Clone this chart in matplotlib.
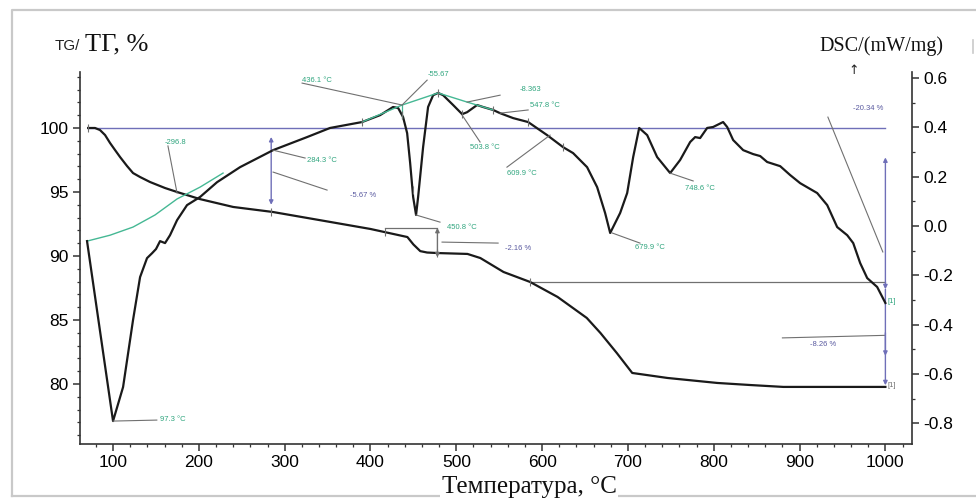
import matplotlib
matplotlib.use('Agg')
import matplotlib.pyplot as plt
import numpy as np
from matplotlib.ticker import MultipleLocator
from matplotlib.lines import Line2D

plt.rcParams['font.family'] = ['Liberation Sans', 'DejaVu Sans']
plt.rcParams['axes.unicode_minus'] = False

# TG curve (%)
tg_t = [71, 79, 84.8, 90.7, 96.5, 102.3, 108.2, 116.3, 123.3, 131.5, 143.1, 160.6, 174.6,
        201, 240, 286, 353, 400, 443, 450, 458, 466, 478,
        513, 528, 555, 586, 618, 652, 668, 687, 705, 746, 804, 842, 881, 959, 1000]
tg_v = [100.0, 100.0, 99.84, 99.45, 98.83, 98.28, 97.73, 97.03, 96.48, 96.17, 95.78, 95.31,
        95.0, 94.45, 93.83, 93.44, 92.66, 92.11, 91.48, 90.9, 90.38, 90.27, 90.23,
        90.16, 89.84, 88.75, 87.97, 86.80, 85.16, 83.98, 82.42, 80.86, 80.47, 80.08,
        79.92, 79.77, 79.77, 79.77]

# DSC curve (mW/mg)
dsc_t = [69.7, 85, 100, 111.7, 123.3, 131.5, 139.6, 145.5, 150.1, 154.8, 160.6, 166.4,
         174.6, 186.2, 201.4, 221.2, 248, 286.5, 326.1, 352.9, 390.2, 411.2, 426.3,
         432.2, 438, 442.7, 446.2, 449.7, 453.1, 455.5, 461.3, 467.1, 473, 478.8,
         484.6, 496.3, 506.8, 512.6, 524.2, 531.2, 542.9, 551, 566.2, 583.7, 605.8,
         624.5, 636.1, 652.4, 664.1, 673.4, 679.3, 690.9, 699.1, 706.1, 713.1, 722.4,
         734, 749.2, 760.8, 772.5, 778.3, 784.1, 792.3, 799.3, 810.9, 815.6, 822.6,
         834.3, 845.9, 854.1, 862.2, 877.4, 889, 900.7, 920.5, 932.2, 943.8, 955.5,
         962.5, 970.6, 978.8, 990.4, 1000]
dsc_v = [-0.061, -0.43, -0.791, -0.653, -0.381, -0.207, -0.130, -0.110, -0.093, -0.061,
         -0.069, -0.037, 0.024, 0.085, 0.118, 0.178, 0.239, 0.308, 0.361, 0.398, 0.422,
         0.450, 0.483, 0.479, 0.442, 0.377, 0.256, 0.118, 0.045, 0.118, 0.320, 0.483,
         0.531, 0.540, 0.531, 0.491, 0.454, 0.462, 0.491, 0.483, 0.471, 0.458, 0.438,
         0.422, 0.369, 0.320, 0.296, 0.239, 0.158, 0.053, -0.028, 0.053, 0.134, 0.280,
         0.398, 0.369, 0.280, 0.215, 0.268, 0.341, 0.361, 0.357, 0.398, 0.402, 0.422,
         0.402, 0.349, 0.308, 0.292, 0.284, 0.260, 0.243, 0.207, 0.174, 0.134, 0.085,
         -0.004, -0.037, -0.069, -0.150, -0.211, -0.247, -0.312]

# green baseline arc and tangent lines
arc_t = [69.7, 96.5, 123.3, 148.9, 174.6, 201.4, 228.2]
arc_v = [-0.061, -0.037, -0.004, 0.045, 0.110, 0.158, 0.215]
tan_t = [390.2, 436.8, 478.8, 512.6, 542.9]
tan_v = [0.422, 0.491, 0.540, 0.503, 0.471]

# DSC labels: text, x, y, line start, line end, colour
dsc_labels = [
    ('97.3 °C', 154.8, -0.785, (100, -0.791), (151, -0.787), 'g'),
    ('-296.8', 160.6, 0.341, (164, 0.325), (174.6, 0.134), 'g'),
    ('284.3 °C', 326, 0.268, (286.5, 0.308), (323.8, 0.276), 'g'),
    ('-5.67 %', 376, 0.126, (286.5, 0.219), (349.4, 0.146), 'p'),
    ('436.1 °C', 320, 0.592, (320.3, 0.580), (436.8, 0.491), 'g'),
    ('-55.67', 467, 0.613, (466, 0.592), (436.8, 0.491), 'g'),
    ('-8.363', 574, 0.556, (551, 0.531), (512.6, 0.503), 'g'),
    ('547.8 °C', 586, 0.491, (583.7, 0.471), (551, 0.458), 'g'),
    ('503.8 °C', 516, 0.320, (527.7, 0.341), (506.8, 0.450), 'g'),
    ('609.9 °C', 559, 0.215, (559, 0.239), (609.3, 0.369), 'g'),
    ('450.8 °C', 489, -0.004, (453, 0.045), (481, 0.016), 'g'),
    ('-2.16 %', 557, -0.089, (483.4, -0.065), (548.7, -0.069), 'p'),
    ('679.9 °C', 708, -0.085, (681.6, -0.028), (714, -0.069), 'g'),
    ('748.6 °C', 767, 0.154, (749, 0.215), (776, 0.183), 'g'),
    ('-20.34 %', 962, 0.475, (933, 0.442), (997, -0.105), 'p'),
]
dsc_marks = [390, 436.8, 449, 478.8, 506.8, 542.9, 583.7, 624.5]
tg_marks = [71, 284.3, 417, 478, 586]

green = '#45b894'
purple = '#6f6fb8'
gray = '#707070'
lab_col = {'g': '#2fa57e', 'p': '#5a5aa0'}

fig = plt.figure(figsize=(9.76, 5.04), dpi=100)
ax1 = fig.add_axes([80/976, 1-444/504, 832/976, 372/504])
ax2 = ax1.twinx()

ax1.set_xlim(61.5, 1031)
ax1.set_ylim(75.31, 104.375)
ax2.set_ylim(-0.884, 0.625)

# frame around the whole picture
fig.add_artist(Line2D([12/976, 12/976, 1], [1-496/504, 1-10/504, 1-10/504],
                      transform=fig.transFigure, color='#c9c9c9', lw=1.6))
fig.add_artist(Line2D([12/976, 1], [1-496/504, 1-496/504],
                      transform=fig.transFigure, color='#c9c9c9', lw=1.6))
fig.add_artist(Line2D([973/976, 973/976], [1-40/504, 1-53/504],
                      transform=fig.transFigure, color='#c9c9c9', lw=1.2))

# 100 % reference line
ax1.plot([71, 1000], [100, 100], color=purple, lw=1.0, zorder=2)

ax1.plot(tg_t, tg_v, color='#1a1a1a', lw=1.6, zorder=3)
ax2.plot(arc_t, arc_v, color=green, lw=1.0, zorder=2)
ax2.plot(dsc_t, dsc_v, color='#1a1a1a', lw=1.6, zorder=3)
ax2.plot(tan_t, tan_v, color=green, lw=1.0, zorder=4)
ax2.plot([436.8, 436.8], [0.491, 0.44], color=green, lw=0.9, zorder=4)

ax2.plot(dsc_marks, np.interp(dsc_marks, dsc_t, dsc_v), ls='none', marker='|',
         ms=6, mew=0.8, color=gray, zorder=5)
ax1.plot(tg_marks, np.interp(tg_marks, tg_t, tg_v), ls='none', marker='|',
         ms=6, mew=0.8, color=gray, zorder=5)

for text, x, y, p0, p1, c in dsc_labels:
    ax2.plot([p0[0], p1[0]], [p0[1], p1[1]], color=gray, lw=0.8, zorder=4)
    ax2.text(x, y, text, color=lab_col[c], fontsize=5.5, ha='left', va='center', zorder=6)

# TG step markers
arr = dict(arrowstyle='<|-|>', color=purple, lw=1.0, mutation_scale=6, shrinkA=0, shrinkB=0)
ax1.annotate('', xy=(284.3, 99.3), xytext=(284.3, 94.0), arrowprops=arr)
ax1.plot([417, 478], [92.2, 92.2], color=gray, lw=0.9)
ax1.annotate('', xy=(478, 92.2), xytext=(478, 89.9),
             arrowprops=dict(arr, color=gray))
ax1.plot([586, 1000], [87.97, 87.97], color=gray, lw=0.9)
ax1.annotate('', xy=(1000, 97.7), xytext=(1000, 87.4), arrowprops=arr)
ax1.annotate('', xy=(1000, 79.9), xytext=(1000, 87.4),
             arrowprops=dict(arrowstyle='-|>', color=purple, lw=1.0, mutation_scale=6,
                             shrinkA=0, shrinkB=0))
ax1.annotate('', xy=(1000, 82.2), xytext=(1000, 84.0),
             arrowprops=dict(arrowstyle='-|>', color=purple, lw=1.0, mutation_scale=6,
                             shrinkA=0, shrinkB=0))
ax1.plot([880, 1000], [83.6, 83.8], color=gray, lw=0.8)
ax1.text(912, 83.1, '-8.26 %', color=lab_col['p'], fontsize=5.5, va='center')
ax1.text(1003, 79.85, '[1]', color=gray, fontsize=5.5, va='center')
ax2.text(1003, -0.304, '[1]', color=lab_col['g'], fontsize=5.5, va='center')

# axes styling
for s in ['top', 'right']:
    ax1.spines[s].set_visible(False)
for s in ['top', 'left', 'bottom']:
    ax2.spines[s].set_visible(False)
for sp in [ax1.spines['left'], ax1.spines['bottom'], ax2.spines['right']]:
    sp.set_color('#333333')
    sp.set_linewidth(1.2)

ax1.set_xticks(range(100, 1001, 100))
ax1.xaxis.set_minor_locator(MultipleLocator(20))
ax1.set_yticks([80, 85, 90, 95, 100])
ax1.yaxis.set_minor_locator(MultipleLocator(1))
ax2.set_yticks([-0.8, -0.6, -0.4, -0.2, 0.0, 0.2, 0.4, 0.6])
ax2.yaxis.set_minor_locator(MultipleLocator(0.1))
ax2.yaxis.set_major_formatter(matplotlib.ticker.FormatStrFormatter('%.1f'))

ax1.tick_params(axis='both', which='major', direction='out', length=5, width=1.1,
                color='#333333', labelsize=12.5, pad=3)
ax1.tick_params(axis='both', which='minor', direction='out', length=2.5, width=0.9,
                color='#333333')
ax2.tick_params(axis='y', which='major', direction='out', length=5, width=1.1,
                color='#333333', labelsize=12.5, pad=3)
ax2.tick_params(axis='y', which='minor', direction='out', length=2.5, width=0.9,
                color='#333333')

# axis titles
fig.text(55/976, 1-46/504, 'TG/', fontsize=11, family='Liberation Sans',
         ha='left', va='center', color='#222222')
fig.text(85/976, 1-44/504, 'ТГ, %', fontsize=19, family='Liberation Serif',
         ha='left', va='center', color='#111111')
fig.text(943/976, 1-46/504, 'DSC/(mW/mg)', fontsize=14.5, family='Liberation Serif',
         ha='right', va='center', color='#111111')
fig.text(854/976, 1-70/504, '↑', fontsize=9, family='DejaVu Sans',
         ha='center', va='center', color='#222222')
fig.text(529/976, 1-487/504, 'Температура, °C', fontsize=18, family='Liberation Serif',
         ha='center', va='center', color='#111111',
         bbox=dict(facecolor='white', edgecolor='none', pad=1))

fig.savefig('out.png', dpi=100)
